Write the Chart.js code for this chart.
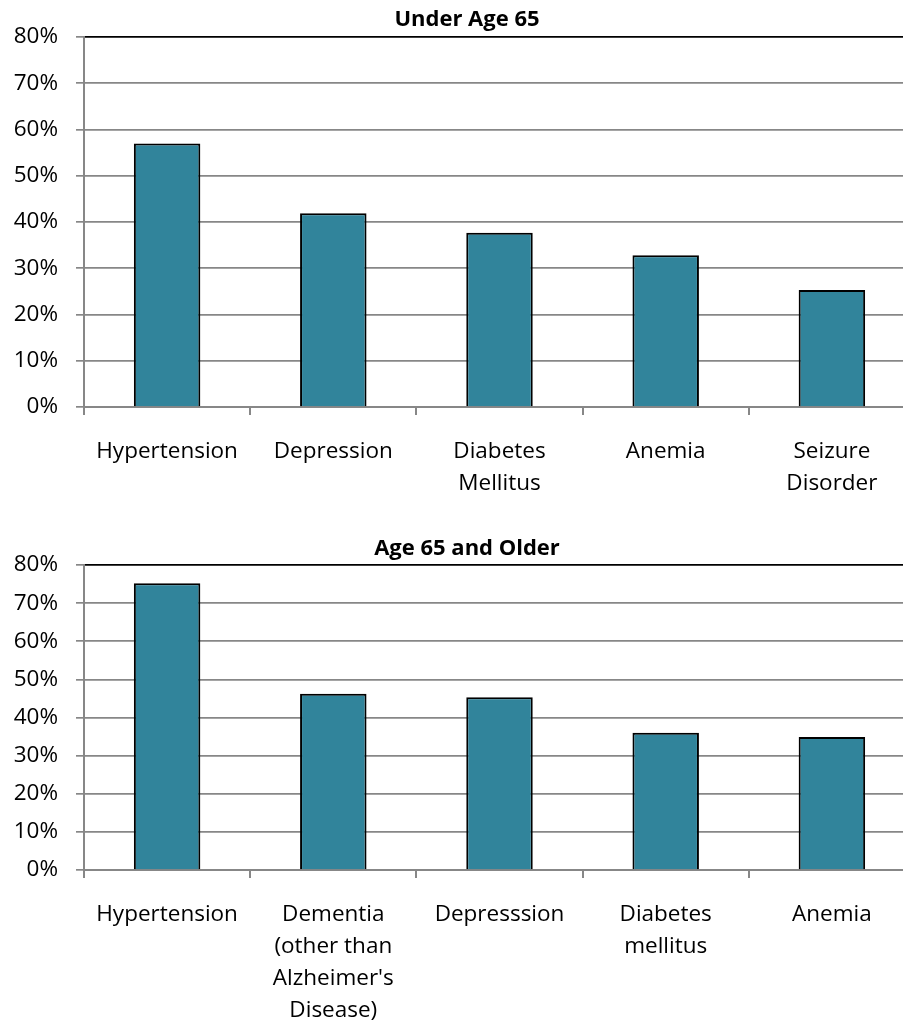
<!DOCTYPE html>
<html>
<head>
<meta charset="utf-8">
<script src="https://cdn.jsdelivr.net/npm/chart.js@4.4.1/dist/chart.umd.min.js"></script>
<style>
  html, body { margin: 0; padding: 0; background: #fff; overflow: hidden; }
  canvas { display: block; }
</style>
</head>
<body>
<canvas id="under65" width="934" height="520"></canvas>
<canvas id="over65" width="934" height="504"></canvas>
<script>
// ── Data ─────────────────────────────────────────────────────────
const yTicks = [0, 10, 20, 30, 40, 50, 60, 70, 80];

const under65Labels = ['Hypertension', 'Depression', ['Diabetes', 'Mellitus'], 'Anemia', ['Seizure', 'Disorder']];
const under65Values = [57.0, 41.9, 37.7, 32.8, 25.3];

const over65Labels = ['Hypertension', ['Dementia', '(other than', "Alzheimer's", 'Disease)'], 'Depresssion', ['Diabetes', 'mellitus'], 'Anemia'];
const over65Values = [75.2, 46.2, 45.3, 36.0, 34.9];

// ── Styling ──────────────────────────────────────────────────────
const FONT   = '"Open Sans", "Noto Sans", sans-serif';
const GRID   = '#878787';
const BAR    = '#31849B';

function makeChart(id, title, labels, values, geo) {
  const ctx = document.getElementById(id).getContext('2d');
  return new Chart(ctx, {
    type: 'bar',
    data: {
      labels,
      datasets: [{
        data: values,
        backgroundColor: BAR,
        borderColor: '#000',
        borderWidth: 2,
        barPercentage: 0.4,
        categoryPercentage: 1
      }]
    },
    options: {
      responsive: false,
      animation: false,
      layout: { padding: 0 },
      plugins: {
        legend: { display: false },
        tooltip: { enabled: false },
        title: {
          display: true,
          text: title,
          color: '#000',
          font: { family: FONT, size: 22, weight: 'bold', lineHeight: 1.2 },
          padding: { top: geo.titleTop, bottom: geo.titleBottom }
        }
      },
      scales: {
        x: {
          offset: true,
          grid: {
            offset: true,
            drawOnChartArea: false,
            drawTicks: true,
            tickLength: 8,
            color: GRID,
            lineWidth: 2
          },
          border: { color: GRID, width: 2 },
          ticks: {
            color: '#000',
            font: { family: FONT, size: 22.5, lineHeight: '32px' },
            padding: 21,
            autoSkip: false,
            maxRotation: 0
          },
          afterFit: s => { s.height = geo.xHeight; }
        },
        y: {
          min: 0,
          max: 80,
          afterBuildTicks: s => { s.ticks = yTicks.map(v => ({ value: v })); },
          grid: {
            color: c => c.tick && c.tick.value === 80 ? '#000' : GRID,
            tickColor: GRID,
            tickLength: 8,
            lineWidth: 1.7
          },
          border: { color: GRID, width: 2 },
          ticks: {
            color: '#000',
            font: { family: FONT, size: 22.5 },
            padding: 18,
            callback: v => `${v}%`
          },
          afterFit: s => { s.width = 84; }
        },
        // empty right-hand box so the plot runs past the page edge
        yRight: {
          axis: 'y',
          position: 'right',
          grid: { display: false },
          border: { display: false },
          ticks: { display: false },
          afterFit: s => { s.width = 19; }
        }
      }
    }
  });
}

makeChart('under65', 'Under Age 65', under65Labels, under65Values,
  { titleTop: 6.3, titleBottom: 4.3 , xHeight: 113 });
makeChart('over65', 'Age 65 and Older', over65Labels, over65Values,
  { titleTop: 15.8, titleBottom: 2.8, xHeight: 154 });
</script>
</body>
</html>
